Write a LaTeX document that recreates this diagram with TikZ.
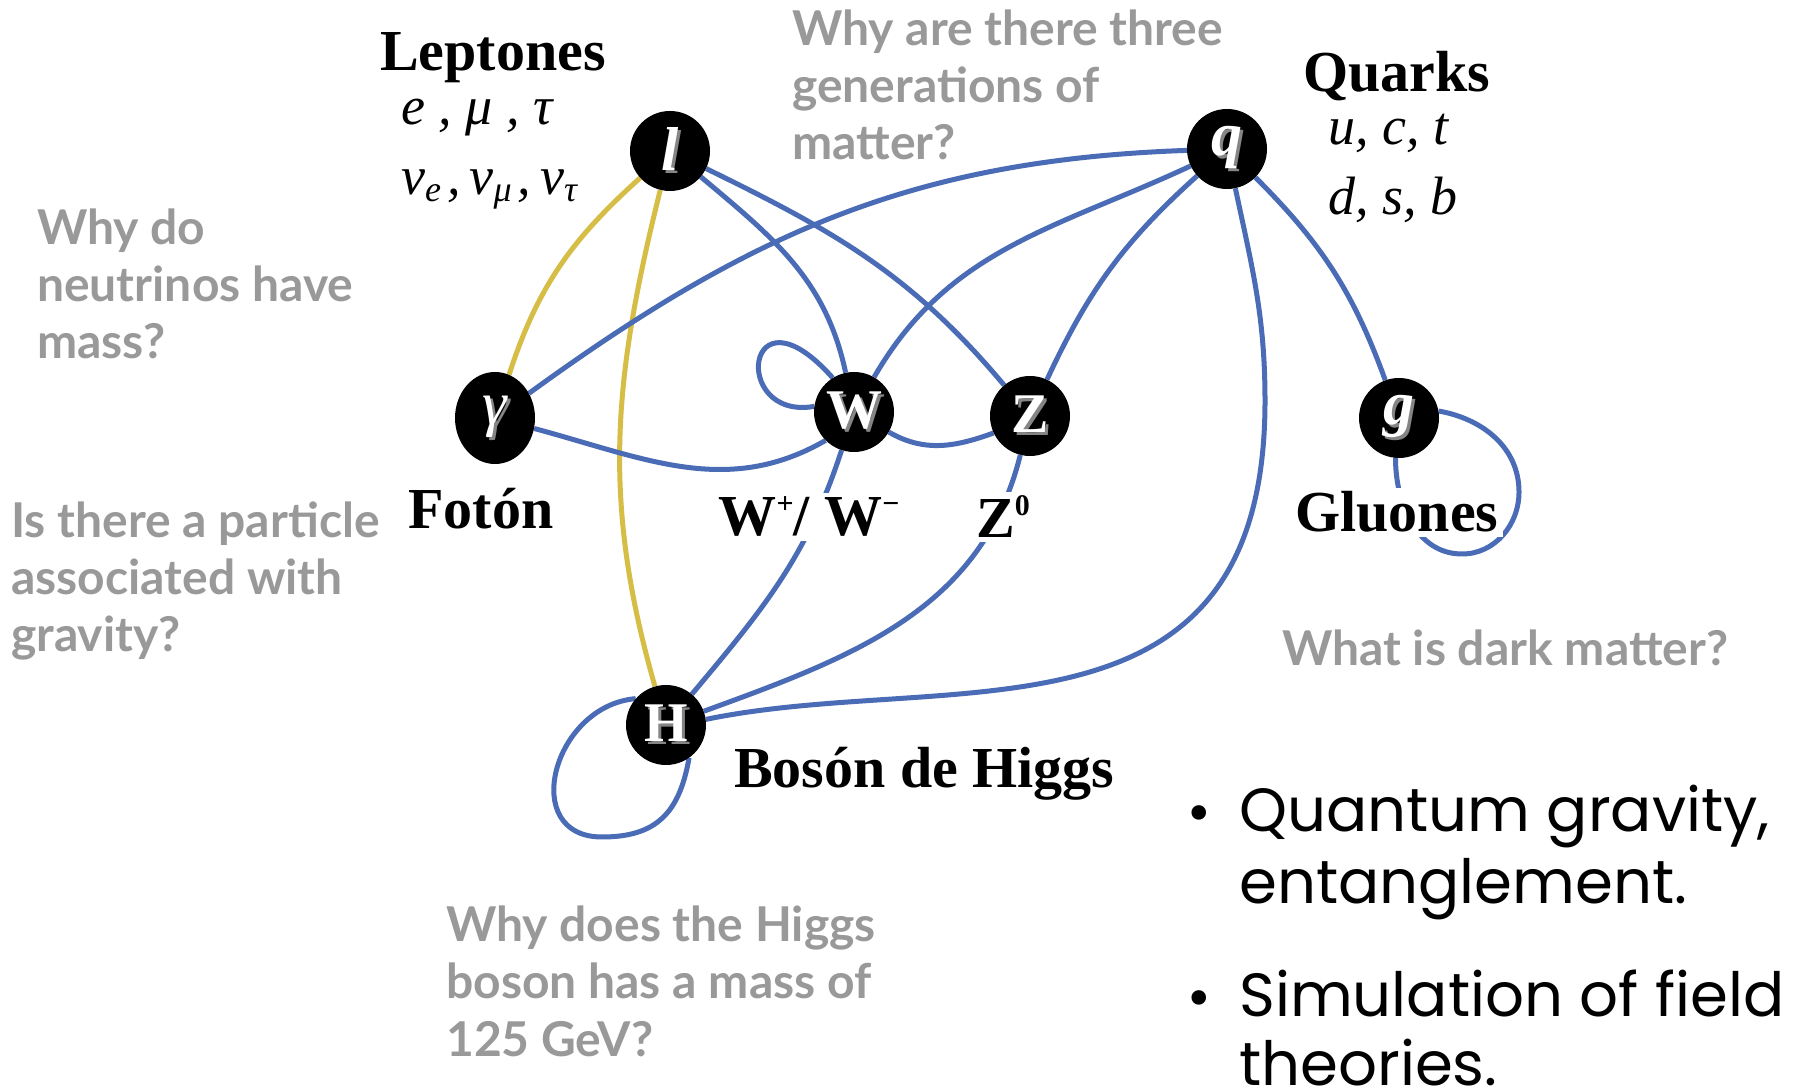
\documentclass[tikz,border=0pt]{standalone}
\usepackage{fontspec}
\setmainfont{Liberation Serif}
\newfontfamily\latofont{Lato}
\newfontfamily\popfont{Poppins}
\newfontfamily\dejafont{DejaVu Sans}
\usetikzlibrary{shapes.geometric}
\definecolor{eblue}{HTML}{4A6BB5}
\definecolor{eyel}{HTML}{D6BE46}
\definecolor{qgray}{HTML}{999999}
\definecolor{shgray}{HTML}{858585}
\pgfdeclarelayer{bg}\pgfdeclarelayer{edges}\pgfsetlayers{bg,edges,main}
\newcommand\shl[1]{\rlap{\hspace{3pt}\raisebox{-3pt}{\textcolor{shgray}{#1}}}#1}
\newcommand\subsc[1]{\raisebox{-7pt}{\fontsize{36}{36}\selectfont #1}}
\newcommand\supsc[1]{\raisebox{22pt}{\fontsize{30}{30}\selectfont #1}}
\newcommand\sepc{\hspace{6pt},\hspace{9pt}}
\tikzset{
 particle/.style={circle,fill=black,minimum size=80pt,inner sep=0pt,text=white},
 blueline/.style={draw=eblue,line width=5pt},
 yelline/.style={draw=eyel,line width=5pt},
 boldlab/.style={font=\fontsize{58}{60}\selectfont\bfseries,inner sep=0pt,anchor=base},
 ital/.style={font=\fontsize{54}{56}\selectfont\itshape,inner sep=0pt,anchor=base west},
 question/.style={font=\latofont\bfseries\fontsize{48}{57}\selectfont,text=qgray,align=left,inner sep=0pt,anchor=base west},
 bullettext/.style={font=\popfont\fontsize{61}{72}\selectfont,inner sep=0pt,anchor=base west},
 bulletdot/.style={font=\dejafont\fontsize{50}{50}\selectfont,inner sep=0pt,anchor=base},
 biglet/.style={font=\fontsize{56}{56}\selectfont\bfseries},
 smalllet/.style={font=\fontsize{62}{62}\selectfont\bfseries\itshape},
}
\begin{document}
\begin{tikzpicture}[x=1pt,y=1pt]
\useasboundingbox (0,0) rectangle (1795,1089);
\begin{pgfonlayer}{bg}
\fill[white] (0,0) rectangle (1795,1089);
\end{pgfonlayer}
% particles
\node[particle,smalllet] (l) at (670,938) {\shl{l}};
\node[particle,smalllet] (q) at (1227,940) {\shl{q}};
\node[particle,ellipse,minimum width=80pt,minimum height=92pt,font=\fontsize{62}{62}\selectfont\itshape] (gam) at (495,671) {\shl{γ}};
\node[particle,biglet] (W) at (854,677) {\shl{W}};
\node[particle,biglet] (Z) at (1030,673) {\shl{Z}};
\node[particle,smalllet] (g) at (1399,671) {\shl{g}};
\node[particle,biglet] (H) at (666,364) {\shl{H}};
\coordinate (qh) at (1265,688);
\coordinate (gl1) at (1462,535);
\coordinate (gl2) at (1519,597);
\coordinate (hl) at (602,252);
% edges
\begin{pgfonlayer}{edges}
\draw[yelline] (l) to[out=222,in=72] (gam);
\draw[yelline] (l) to[out=256,in=106] (H);
\draw[blueline] (l) to[out=-40,in=102] (W);
\draw[blueline] (l) to[out=-26,in=130] (Z);
\draw[blueline] (q) to[out=182,in=36] (gam);
\draw[blueline] (q) to[out=205,in=60] (W);
\draw[blueline] (q) to[out=222,in=65] (Z);
\draw[blueline] (q) to[out=-78,in=90] (qh) .. controls (1265,330) and (950,420) .. (H.8);
\draw[blueline] (q) to[out=-45,in=110] (g);
\draw[blueline] (g.-95) to[out=-90,in=180] (gl1) to[out=0,in=-90] (gl2) to[out=90,in=-10] (g.10);
\draw[blueline] (W.172) .. controls (730,668) and (745,810) .. (W.122);
\draw[blueline] (gam) to[out=-15,in=210] (W.225);
\draw[blueline] (W.-30) to[out=-30,in=200] (Z.205);
\draw[blueline] (W) to[out=252,in=50] (H);
\draw[blueline] (Z) to[out=256,in=20] (H);
\draw[blueline] (H.139) to[out=185,in=180,looseness=1.5] (hl) to[out=0,in=-100,looseness=1.2] (H.-55);
\end{pgfonlayer}
% labels
\node[boldlab] (lepl) at (493,1018) {Leptones};
\node[ital] (lepm) at (401,964) {e , μ , τ};
\node[ital] (lepn) at (401,894) {ν\subsc{e}\sepc ν\subsc{μ}\sepc ν\subsc{τ}};
\node[boldlab] (quarkl) at (1397,997) {Quarks};
\node[ital] (qm1) at (1328,944) {u, c, t};
\node[ital] (qm2) at (1328,874) {d, s, b};
\node[boldlab] (fotl) at (481,560) {Fotón};
\node[boldlab,fill=white,inner sep=4pt] (wl) at (809,553) {W\supsc{+}/ W\supsc{−}};
\node[boldlab,fill=white,inner sep=4pt] (zl) at (1003,551) {Z\supsc{0}};
\node[boldlab,fill=white,inner sep=4pt] (glul) at (1397,557) {Gluones};
\node[boldlab,anchor=base west] (higl) at (734,301) {Bosón de Higgs};
% questions (anchor at the baseline of the last line)
\node[question] (q1) at (37,730) {Why do\\neutrinos have\\mass?};
\node[question] (q2) at (792,929) {Why are there three\\generations of\\matter?};
\node[question] (q3) at (11,437) {Is there a particle\\associated with\\gravity?};
\node[question] (q4) at (1282,423) {What is dark matter?};
\node[question] (q5) at (446,33) {Why does the Higgs\\boson has a mass of\\125 GeV?};
% bullets
\node[bulletdot] (b1) at (1199,257) {•};
\node[bullettext] (t1) at (1239,257) {Quantum gravity,};
\node[bullettext] (t2) at (1239,185) {entanglement.};
\node[bulletdot] (b2) at (1199,72) {•};
\node[bullettext] (t3) at (1239,72) {Simulation of field};
\node[bullettext] (t4) at (1239,4) {theories.};
\end{tikzpicture}
\end{document}
